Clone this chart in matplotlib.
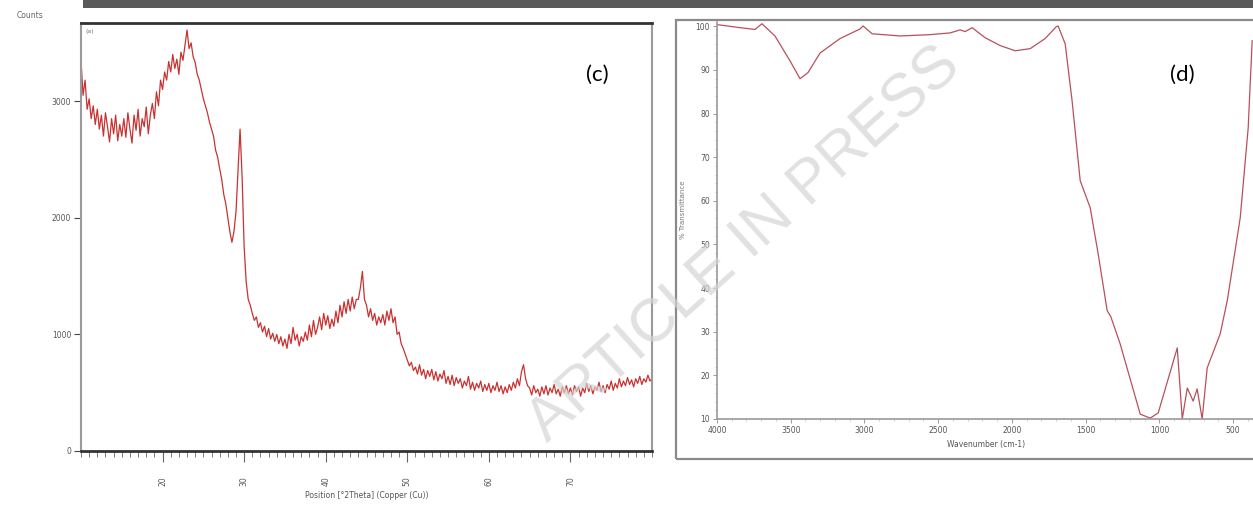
import numpy as np
import matplotlib
matplotlib.use("Agg")
import matplotlib.pyplot as plt
from matplotlib.patches import Rectangle
from matplotlib.ticker import MultipleLocator

# ---------------- XRD data (panel c) ----------------
xrd_start, xrd_step = 10.0, 0.25
xrd_counts = [
    3350, 3050, 3180, 2930, 3020, 2850, 2960, 2800, 2930, 2760, 2880, 2700, 2900, 2780, 2650, 2850, 2720, 2880, 2660, 2800,
    2700, 2850, 2690, 2900, 2760, 2640, 2880, 2750, 2930, 2700, 2850, 2780, 2950, 2720, 2880, 2980, 2850, 3080, 2960, 3180,
    3100, 3250, 3180, 3340, 3250, 3400, 3280, 3360, 3230, 3420, 3350, 3480, 3610, 3450, 3500, 3380, 3330, 3230, 3180, 3100,
    3020, 2960, 2900, 2820, 2760, 2700, 2580, 2520, 2420, 2330, 2200, 2120, 2000, 1880, 1790, 1880, 2050, 2400, 2760, 2350,
    1750, 1450, 1300, 1250, 1180, 1120, 1150, 1060, 1100, 1020, 1070, 980, 1050, 960, 1010, 940, 1000, 920, 980, 900,
    960, 880, 1000, 920, 1060, 950, 1000, 900, 980, 940, 1020, 950, 1080, 980, 1120, 1000, 1060, 1150, 1040, 1180,
    1080, 1160, 1050, 1130, 1070, 1200, 1100, 1250, 1150, 1280, 1180, 1300, 1200, 1320, 1220, 1300, 1300, 1400, 1540, 1300,
    1250, 1150, 1220, 1120, 1180, 1080, 1150, 1100, 1170, 1080, 1200, 1120, 1220, 1100, 1150, 1000, 1020, 920, 880, 830,
    780, 730, 760, 690, 720, 660, 740, 650, 700, 620, 690, 640, 700, 610, 680, 600, 660, 620, 690, 580,
    640, 570, 650, 560, 630, 580, 620, 540, 600, 560, 640, 530, 590, 520, 580, 540, 600, 510, 570, 520,
    580, 500, 560, 520, 590, 510, 560, 490, 550, 500, 570, 520, 590, 540, 620, 560, 680, 740, 620, 560,
    540, 480, 560, 500, 530, 470, 550, 490, 560, 480, 540, 500, 570, 490, 530, 470, 550, 500, 560, 490,
    540, 480, 560, 510, 550, 470, 540, 500, 580, 510, 560, 490, 550, 520, 590, 510, 560, 500, 570, 530,
    600, 520, 580, 540, 620, 550, 600, 560, 630, 570, 610, 550, 620, 580, 640, 570, 620, 590, 650, 600,
    620,
]
xrd_theta = xrd_start + xrd_step * np.arange(len(xrd_counts))
xrd_xticks = [20, 30, 40, 50, 60, 70]
xrd_yticks = [0, 1000, 2000, 3000]

# ---------------- FTIR data (panel d) ----------------
ftir_wn = [4000, 3844, 3742, 3695, 3607, 3505, 3437, 3383, 3301, 3166, 3030, 3010, 2948,
           2758, 2555, 2419, 2351, 2317, 2270, 2182, 2080, 1978, 1876, 1775, 1700, 1687,
           1639, 1592, 1537, 1469, 1415, 1354, 1330, 1266, 1130, 1062, 1008, 879, 845,
           811, 771, 744, 710, 676, 588, 540, 452, 398, 371]
ftir_t = [100.4, 99.7, 99.3, 100.6, 97.8, 92.1, 88.0, 89.4, 93.9, 97.2, 99.4, 100.1, 98.3,
          97.8, 98.1, 98.5, 99.2, 98.8, 99.7, 97.4, 95.6, 94.4, 94.9, 97.2, 99.9, 100.1,
          96.0, 82.9, 64.6, 58.4, 47.8, 34.8, 33.5, 27.2, 11.1, 10.2, 11.4, 26.3, 10.0,
          17.1, 14.1, 16.9, 10.0, 21.7, 29.5, 37.1, 56.1, 76.7, 96.7]
ftir_xticks = [4000, 3500, 3000, 2500, 2000, 1500, 1000, 500]
ftir_yticks = [10, 20, 30, 40, 50, 60, 70, 80, 90, 100]

W, H = 1253, 512
fig = plt.figure(figsize=(W / 100, H / 100), dpi=100)
fig.patch.set_facecolor("white")

def fx(px):
    return px / W

def fy(py):
    return 1 - py / H

# top dark bar
fig.patches.append(Rectangle((fx(83), fy(8)), 1 - fx(83), 8 / H, transform=fig.transFigure,
                             facecolor="#5a5a5a", edgecolor="none", zorder=-5))

tick_col = "#555555"
tick_fs = 5.5

# ---------------- left panel ----------------
ax1 = fig.add_axes([fx(81), fy(451), (652 - 81) / W, (451 - 23) / H])
ax1.plot(xrd_theta, xrd_counts, color="#c83232", lw=0.9)
ax1.set_xlim(10, 80)
ax1.set_ylim(0, 3670)
ax1.set_xticks(xrd_xticks)
ax1.xaxis.set_minor_locator(MultipleLocator(1))
ax1.set_yticks(xrd_yticks)
ax1.tick_params(axis="x", which="major", length=8, width=0.8, color="#666666",
                labelsize=tick_fs, labelcolor=tick_col, labelrotation=90, pad=10)
ax1.tick_params(axis="x", which="minor", length=4, width=0.6, color="#666666")
ax1.tick_params(axis="y", which="major", length=5, width=0.8, color="#444444",
                labelsize=tick_fs, labelcolor=tick_col, pad=2)
for s in ["top", "bottom"]:
    ax1.spines[s].set_color("#333333")
    ax1.spines[s].set_linewidth(2)
for s in ["left", "right"]:
    ax1.spines[s].set_color("#9a9a9a")
    ax1.spines[s].set_linewidth(1.5)
ax1.set_xlabel("Position [°2Theta] (Copper (Cu))", fontsize=5.5, color=tick_col, labelpad=4)
fig.text(fx(30), fy(15), "Counts", fontsize=5.5, color="#666666", ha="center", va="center")
ax1.text(0.008, 0.985, "(a)", transform=ax1.transAxes, fontsize=4.5, color="#777777",
         ha="left", va="top")
fig.text(fx(597), fy(75), "(c)", fontsize=16, family="Lato", ha="center", va="center")

# ---------------- right panel ----------------
fig.patches.append(Rectangle((fx(676), fy(459)), (1262 - 676) / W, (459 - 20) / H,
                             transform=fig.transFigure, facecolor="none",
                             edgecolor="#8a8a8a", lw=1.6, zorder=-5))
ax2 = fig.add_axes([fx(717), fy(419), (1256 - 717) / W, (419 - 22) / H])
ax2.patch.set_alpha(0)
ax2.plot(ftir_wn, ftir_t, color="#b8505c", lw=0.9)
ax2.set_xlim(4000, 345)
ax2.set_ylim(10, 101)
ax2.set_xticks(ftir_xticks)
ax2.set_yticks(ftir_yticks)
ax2.yaxis.set_minor_locator(MultipleLocator(2))
ax2.xaxis.set_minor_locator(MultipleLocator(100))
ax2.tick_params(axis="both", which="major", length=3, width=0.6, color="#888888",
                labelsize=tick_fs, labelcolor=tick_col, pad=2)
ax2.tick_params(axis="both", which="minor", length=1.5, width=0.4, color="#aaaaaa")
for s in ["left", "bottom"]:
    ax2.spines[s].set_color("#9a9a9a")
    ax2.spines[s].set_linewidth(1.2)
for s in ["top", "right"]:
    ax2.spines[s].set_visible(False)
ax2.set_xlabel("Wavenumber (cm-1)", fontsize=5.5, color=tick_col, labelpad=4)
fig.text(fx(683), fy(210), "% Transmittance", fontsize=5, color="#777777",
         rotation=90, ha="center", va="center")
fig.text(fx(1182), fy(75), "(d)", fontsize=16, family="Lato", ha="center", va="center")

# ---------------- watermark ----------------
fig.text(fx(745), fy(245), "ARTICLE IN PRESS", fontsize=44, family="Liberation Sans",
         color="#d4d4d4", alpha=0.7, rotation=42, ha="center", va="center",
         rotation_mode="anchor", zorder=10)

fig.savefig("out.png", dpi=100)
